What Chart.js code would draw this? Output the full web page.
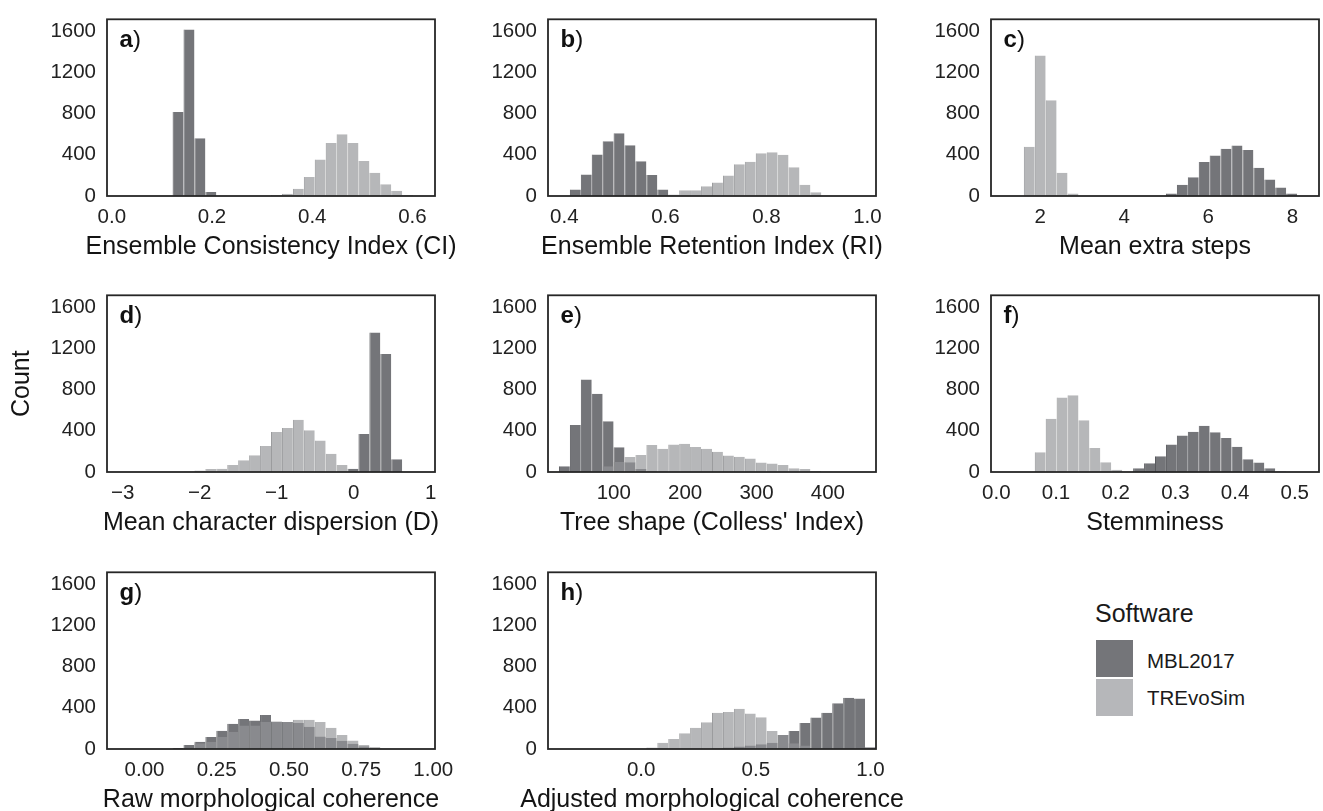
<!DOCTYPE html>
<html>
<head>
<meta charset="utf-8">
<script src="https://cdn.jsdelivr.net/npm/chart.js@4.4.0/dist/chart.umd.min.js"></script>
<style>
html,body{margin:0;padding:0;background:#fff;}
#wrap{position:relative;width:1323px;height:811px;overflow:hidden;font-family:'Liberation Sans',Arial,Helvetica,sans-serif;color:#1a1a1a;}
#wrap canvas{position:absolute;}
.lg{position:absolute;white-space:nowrap;}
.sw{position:absolute;width:37px;height:37px;}
</style>
</head>
<body>
<div id="wrap">
  <div class="lg" style="left:1095px;top:598px;font-size:25px;line-height:30px;">Software</div>
  <div class="sw" style="left:1096px;top:640px;background:#747579;"></div>
  <div class="sw" style="left:1096px;top:679px;background:#b6b7ba;"></div>
  <div class="lg" style="left:1147px;top:649px;font-size:20.5px;line-height:24px;">MBL2017</div>
  <div class="lg" style="left:1147px;top:686px;font-size:20.5px;line-height:24px;">TREvoSim</div>
</div>
<script>
// ---------------- data (30 histogram bins per panel) ----------------
const seriesNames = ['MBL2017', 'TREvoSim'];
const yTicks = [0, 400, 800, 1200, 1600];
const yMax = 1715;

// a) Ensemble Consistency Index (CI)
const ciRange = [-0.0096, 0.645];
const ciTicks = [0, 0.2, 0.4, 0.6];
const ciTickLabels = ['0.0', '0.2', '0.4', '0.6'];
const ciMBL = [0,0,0,0,0,0,815,1615,560,40,2,0,0,0,0,0,0,0,0,0,0,0,0,0,0,0,0,0,0,0];
const ciTRE = [0,0,0,0,0,0,0,0,0,0,0,0,0,2,5,10,22,70,185,355,515,600,515,340,225,115,52,10,3,0];

// b) Ensemble Retention Index (RI)
const riRange = [0.3676, 1.017];
const riTicks = [0.4, 0.6, 0.8, 1.0];
const riTickLabels = ['0.4', '0.6', '0.8', '1.0'];
const riMBL = [0,0,62,209,403,532,609,492,338,203,62,3,0,0,0,0,0,0,0,0,0,0,0,0,0,0,0,0,0,0];
const riTRE = [0,0,0,0,0,0,0,0,0,3,8,15,55,55,95,132,200,308,332,415,425,400,280,108,37,3,0,0,0,0];

// c) Mean extra steps
const stepsRange = [0.829, 8.634];
const stepsTicks = [2, 4, 6, 8];
const stepsTickLabels = ['2', '4', '6', '8'];
const stepsMBL = [0,0,0,0,0,0,0,0,0,0,0,0,0,0,0,0,25,108,182,330,394,458,489,446,274,160,83,25,3,0];
const stepsTRE = [0,0,0,477,1363,929,225,25,0,0,0,0,0,0,0,0,0,0,0,0,0,0,0,0,0,0,0,0,0,0];

// d) Mean character dispersion (D)
const dispRange = [-3.204, 1.056];
const dispTicks = [-3, -2, -1, 0, 1];
const dispTickLabels = ['\u22123', '\u22122', '\u22121', '0', '1'];
const dispMBL = [0,0,0,0,0,0,0,0,0,0,0,0,0,0,0,0,0,0,0,0,0,2,31,369,1355,1145,123,0,0,0];
const dispTRE = [0,0,0,0,0,0,0,3,15,28,31,68,114,163,252,388,428,508,406,305,178,68,5,0,0,0,0,0,0,0];

// e) Tree shape (Colless' Index)
const collessRange = [7.8, 467.5];
const collessTicks = [100, 200, 300, 400];
const collessTickLabels = ['100', '200', '300', '400'];
const collessMBL = [0,55,455,898,760,492,240,95,30,8,3,0,0,0,0,0,0,0,0,0,0,0,0,0,0,0,0,0,0,0];
const collessTRE = [0,0,0,0,10,55,98,145,166,262,225,268,274,243,225,197,160,148,132,92,83,68,37,28,9,3,0,0,0,0];

// f) Stemminess
const stemRange = [-0.0089, 0.5406];
const stemTicks = [0, 0.1, 0.2, 0.3, 0.4, 0.5];
const stemTickLabels = ['0.0', '0.1', '0.2', '0.3', '0.4', '0.5'];
const stemMBL = [0,0,0,0,0,0,0,0,0,0,0,0,3,37,86,154,268,354,391,449,385,329,246,123,92,37,6,0,0,0];
const stemTRE = [0,0,0,0,191,517,723,745,502,234,95,22,2,0,0,0,0,0,0,0,0,0,0,0,0,0,0,0,0,0];

// g) Raw morphological coherence
const rawRange = [-0.130, 1.006];
const rawTicks = [0, 0.25, 0.5, 0.75, 1.0];
const rawTickLabels = ['0.00', '0.25', '0.50', '0.75', '1.00'];
const rawMBL = [0,0,0,0,0,0,9,40,70,116,177,244,290,277,329,268,262,253,216,122,107,79,52,27,15,3,0,0,0,0];
const rawTRE = [0,0,0,0,0,0,0,10,55,70,116,168,229,229,262,262,262,283,283,262,207,137,82,40,18,3,0,0,0,0];

// h) Adjusted morphological coherence
const adjRange = [-0.406, 1.024];
const adjTicks = [0, 0.5, 1.0];
const adjTickLabels = ['0.0', '0.5', '1.0'];
const adjMBL = [0,0,0,0,0,0,0,0,0,0,0,0,0,0,0,8,15,25,35,45,60,137,174,253,305,351,445,497,491,18];
const adjTRE = [0,0,0,0,0,0,0,0,0,15,61,98,152,207,259,351,360,390,345,308,174,137,55,35,10,0,0,0,0,0];

const xTitles = [
  'Ensemble Consistency Index (CI)', 'Ensemble Retention Index (RI)', 'Mean extra steps',
  'Mean character dispersion (D)', "Tree shape (Colless' Index)", 'Stemminess',
  'Raw morphological coherence', 'Adjusted morphological coherence'
];
const panelLetters = ['a', 'b', 'c', 'd', 'e', 'f', 'g', 'h'];

// ---------------- styling / layout ----------------
const FONT = "'Liberation Sans', Arial, Helvetica, sans-serif";
Chart.defaults.font.family = FONT;
const DARK = '#747579';
const DARK_EDGE = 'rgba(70,71,75,0.9)';
const LIGHT = 'rgba(148,149,152,0.68)';
const LIGHT_EDGE = 'rgba(130,131,134,0.8)';
const colLeft = [107, 548, 991];
const rowTop = [10, 286, 563];
const PW = 328, PH = 186;
const ML = 100, MT = 14, MR = 30, MB = 70;

const framePlugin = {
  id: 'frame',
  afterDatasetsDraw(chart, args, opts) {
    const ctx = chart.ctx, a = chart.chartArea;
    ctx.save();
    ctx.strokeStyle = '#262626';
    ctx.lineWidth = 1.8;
    ctx.strokeRect(a.left, a.top, a.right - a.left, a.bottom - a.top);
    ctx.fillStyle = '#111';
    ctx.textBaseline = 'alphabetic';
    ctx.textAlign = 'left';
    const x = a.left + 12.6, y = a.top + 27.7;
    ctx.font = 'bold 24px ' + FONT;
    ctx.fillText(opts.letter, x, y);
    const w = ctx.measureText(opts.letter).width;
    ctx.font = '24px ' + FONT;
    ctx.fillText(')', x + w, y);
    // x-axis title (drawn without width compression)
    ctx.fillStyle = '#141414';
    ctx.font = '25px ' + FONT;
    ctx.textAlign = 'center';
    ctx.textBaseline = 'middle';
    ctx.fillText(opts.title, (a.left + a.right) / 2, a.bottom + 51);
    ctx.restore();
  }
};

const panels = [
  [ciRange, ciTicks, ciTickLabels, ciMBL, ciTRE],
  [riRange, riTicks, riTickLabels, riMBL, riTRE],
  [stepsRange, stepsTicks, stepsTickLabels, stepsMBL, stepsTRE],
  [dispRange, dispTicks, dispTickLabels, dispMBL, dispTRE],
  [collessRange, collessTicks, collessTickLabels, collessMBL, collessTRE],
  [stemRange, stemTicks, stemTickLabels, stemMBL, stemTRE],
  [rawRange, rawTicks, rawTickLabels, rawMBL, rawTRE],
  [adjRange, adjTicks, adjTickLabels, adjMBL, adjTRE]
];

const wrap = document.getElementById('wrap');

panels.forEach((p, i) => {
  const [range, ticks, tickLabels, mbl, tre] = p;
  const col = i % 3, row = Math.floor(i / 3);
  const cw = ML + PW + MR, ch = MT + PH + MB;
  const canvas = document.createElement('canvas');
  canvas.width = cw; canvas.height = ch;
  canvas.style.width = cw + 'px'; canvas.style.height = ch + 'px';
  canvas.style.left = (colLeft[col] - ML) + 'px';
  canvas.style.top = (rowTop[row] - MT) + 'px';
  wrap.appendChild(canvas);

  const n = mbl.length;
  const bw = (range[1] - range[0]) / n;
  const binLabels = mbl.map((_, k) => (range[0] + (k + 0.5) * bw).toPrecision(4));

  new Chart(canvas, {
    type: 'bar',
    data: {
      labels: binLabels,
      datasets: [
        { label: seriesNames[0], data: mbl, backgroundColor: DARK, borderColor: DARK_EDGE,
          borderWidth: { left: 1, right: 0, top: 0, bottom: 0 }, order: 2, xAxisID: 'x', yAxisID: 'y' },
        { label: seriesNames[1], data: tre, backgroundColor: LIGHT, borderColor: LIGHT_EDGE,
          borderWidth: { left: 1, right: 0, top: 0, bottom: 0 }, order: 1, xAxisID: 'x', yAxisID: 'y' }
      ]
    },
    options: {
      responsive: false,
      animation: false,
      devicePixelRatio: 1,
      layout: { padding: { left: 0, top: MT, right: MR, bottom: 0 } },
      datasets: { bar: { barPercentage: 1, categoryPercentage: 1, grouped: false, inflateAmount: 0 } },
      plugins: { legend: { display: false }, tooltip: { enabled: false },
                 frame: { letter: panelLetters[i], title: xTitles[i] } },
      scales: {
        x: { type: 'category', display: false, offset: true },
        x2: {
          type: 'linear', position: 'bottom', min: range[0], max: range[1], offset: false,
          grid: { display: false, drawTicks: false, offset: false }, border: { display: false },
          ticks: { padding: 9, color: '#222', font: { size: 20.5 }, maxRotation: 0, minRotation: 0, autoSkip: false,
                   callback: (v, k) => tickLabels[k] },
          afterBuildTicks: s => { s.ticks = ticks.map(v => ({ value: v })); },
          afterFit: s => { s.height = MB; },
          title: { display: false }
        },
        y: {
          type: 'linear', position: 'left', min: 0, max: yMax, beginAtZero: true,
          grid: { display: false, drawTicks: false }, border: { display: false },
          ticks: { padding: 11, color: '#222', font: { size: 20.5 }, callback: v => String(v) },
          afterBuildTicks: s => { s.ticks = yTicks.map(v => ({ value: v })); },
          afterFit: s => { s.width = ML; },
          title: { display: i === 3, text: 'Count', color: '#141414', font: { size: 25 }, padding: { top: 0, bottom: 0 } }
        }
      }
    },
    plugins: [framePlugin]
  });
});
</script>
</body>
</html>
